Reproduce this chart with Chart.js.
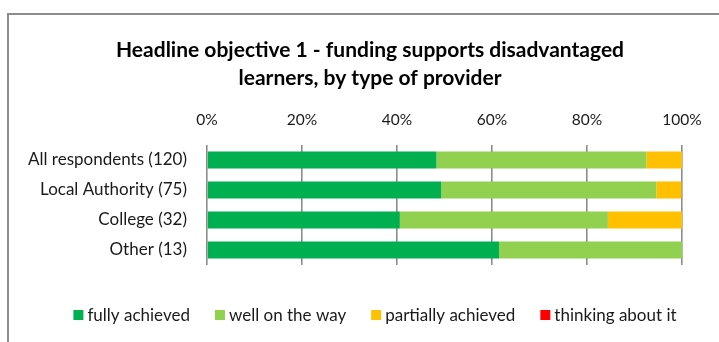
<!DOCTYPE html>
<html>
<head>
<meta charset="utf-8">
<script src="https://cdn.jsdelivr.net/npm/chart.js@4/dist/chart.umd.min.js"></script>
<style>
  html, body { margin: 0; padding: 0; background: #fff; overflow: hidden; }
  #wrap { position: relative; width: 719px; height: 342px; }
  #frame { position: absolute; left: 7px; top: 13px; width: 800px; height: 400px;
           border-left: 2px solid #8c8c8c; border-top: 2px solid #8c8c8c; box-sizing: border-box; }
  canvas { position: absolute; left: 0; top: 0; }
</style>
</head>
<body>
<div id="wrap">
  <div id="frame"></div>
  <canvas id="chart" width="719" height="342"></canvas>
</div>
<script>
// Provider groups (respondent counts in brackets)
const categories = ['All respondents (120)', 'Local Authority (75)', 'College (32)', 'Other (13)'];

// Share of respondents per status, in percent
const fullyAchieved     = [48.3, 49.3, 40.6, 61.5];
const wellOnTheWay      = [44.2, 45.3, 43.8, 38.5];
const partiallyAchieved = [7.5, 5.3, 15.6, 0];
const thinkingAboutIt   = [0, 0, 0, 0];

const seriesNames = ['fully achieved', 'well on the way', 'partially achieved', 'thinking about it'];
const seriesColors = ['#00B050', '#92D050', '#FFC000', '#FF0000'];

const axisTicks = [0, 20, 40, 60, 80, 100];

const titleLines = ['Headline objective 1 - funding supports disadvantaged', 'learners, by type of provider'];

const FONT = 'Lato, "Open Sans", sans-serif';

// Two-line heading, centred over the framed panel
const headline = {
  id: 'headline',
  afterDraw(chart) {
    const ctx = chart.ctx;
    ctx.save();
    ctx.font = 'bold 21px ' + FONT;
    ctx.fillStyle = '#000';
    ctx.textAlign = 'center';
    ctx.textBaseline = 'alphabetic';
    titleLines.forEach((line, i) => ctx.fillText(line, 370, 57 + i * 28));
    ctx.restore();
  }
};

// Legend under the plot: square swatch followed closely by its label
const squareLegend = {
  id: 'squareLegend',
  afterDraw(chart) {
    const ctx = chart.ctx;
    ctx.save();
    ctx.font = '17px ' + FONT;
    ctx.textBaseline = 'middle';
    ctx.textAlign = 'left';
    const items = chart.data.datasets.map(ds => ({
      label: ds.label, color: ds.backgroundColor, w: ctx.measureText(ds.label).width
    }));
    const total = items.reduce((s, it) => s + 14 + it.w, 0) + 25 * (items.length - 1);
    let x = 375 - total / 2;
    const y = 315;
    items.forEach(it => {
      ctx.fillStyle = it.color;
      ctx.fillRect(x, y - 5, 10, 10);
      ctx.fillStyle = '#1a1a1a';
      ctx.fillText(it.label, x + 14, y + 1);
      x += 14 + it.w + 25;
    });
    ctx.restore();
  }
};

const values = [fullyAchieved, wellOnTheWay, partiallyAchieved, thinkingAboutIt];

new Chart(document.getElementById('chart'), {
  type: 'bar',
  data: {
    labels: categories,
    datasets: seriesNames.map((name, i) => ({
      label: name,
      data: values[i],
      backgroundColor: seriesColors[i],
      borderWidth: 0,
      barPercentage: 0.57,
      categoryPercentage: 1.0
    }))
  },
  options: {
    indexAxis: 'y',
    responsive: false,
    animation: false,
    devicePixelRatio: 1,
    layout: { padding: { left: 10, right: 37, top: 98, bottom: 77 } },
    plugins: {
      legend: { display: false },
      tooltip: { enabled: false },
      title: { display: false }
    },
    scales: {
      x: {
        position: 'top',
        stacked: true,
        min: 0,
        max: 100,
        afterBuildTicks(scale) { scale.ticks = axisTicks.map(v => ({ value: v })); },
        afterFit(scale) { scale.height = 47; },
        ticks: {
          callback: v => v + '%',
          color: '#1a1a1a',
          font: { family: FONT, size: 15.5 },
          padding: 16,
          maxRotation: 0
        },
        grid: { color: '#8c8c8c', lineWidth: 1.6, drawTicks: false },
        border: { display: false }
      },
      y: {
        stacked: true,
        afterFit(scale) { scale.width = 197; },
        ticks: {
          color: '#1a1a1a',
          font: { family: FONT, size: 17 },
          padding: 20
        },
        grid: { display: false, drawTicks: false },
        border: { display: false }
      }
    }
  },
  plugins: [headline, squareLegend]
});
</script>
</body>
</html>
